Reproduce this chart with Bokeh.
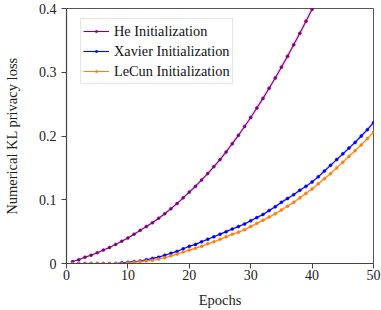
from bokeh.plotting import figure
from bokeh.models import Range1d, Legend, LegendItem, FixedTicker, ColumnDataSource
from bokeh.embed import file_html
from bokeh.resources import INLINE

epochs = list(range(1, 51))

he_loss = [0.003, 0.006, 0.010, 0.013, 0.017, 0.021, 0.025, 0.030, 0.035, 0.040,
           0.046, 0.052, 0.058, 0.064, 0.071, 0.078, 0.086, 0.094, 0.103, 0.112,
           0.121, 0.131, 0.141, 0.152, 0.163, 0.175, 0.188, 0.201, 0.215, 0.229,
           0.244, 0.259, 0.275, 0.291, 0.308, 0.325, 0.343, 0.361, 0.380, 0.399,
           0.419, 0.439, 0.460, 0.481, 0.503, 0.525, 0.548, 0.571, 0.595, 0.619]
he_std = [0.0005, 0.0006, 0.0008, 0.0010, 0.0011, 0.0012, 0.0013, 0.0014, 0.0015, 0.0016,
          0.0017, 0.0018, 0.0019, 0.0020, 0.0021, 0.0022, 0.0023, 0.0024, 0.0025, 0.0026,
          0.0028, 0.0030, 0.0032, 0.0034, 0.0036, 0.0038, 0.0040, 0.0042, 0.0044, 0.0046,
          0.0048, 0.0050, 0.0052, 0.0054, 0.0056, 0.0058, 0.0060, 0.0062, 0.0064, 0.0066,
          0.0068, 0.0070, 0.0072, 0.0074, 0.0076, 0.0078, 0.0080, 0.0082, 0.0084, 0.0086]

xavier_loss = [0.000, 0.000, 0.000, 0.000, 0.000, 0.000, 0.000, 0.000, 0.001, 0.002,
               0.003, 0.004, 0.006, 0.008, 0.010, 0.013, 0.016, 0.019, 0.023, 0.027,
               0.030, 0.034, 0.038, 0.042, 0.046, 0.050, 0.054, 0.058, 0.062, 0.067,
               0.072, 0.077, 0.083, 0.089, 0.096, 0.102, 0.108, 0.115, 0.121, 0.128,
               0.136, 0.145, 0.154, 0.163, 0.172, 0.181, 0.190, 0.200, 0.210, 0.221]
xavier_std = [0.0002, 0.0002, 0.0002, 0.0002, 0.0002, 0.0002, 0.0002, 0.0002, 0.0003, 0.0004,
              0.0005, 0.0006, 0.0007, 0.0008, 0.0009, 0.0010, 0.0011, 0.0012, 0.0013, 0.0014,
              0.0015, 0.0016, 0.0017, 0.0018, 0.0019, 0.0020, 0.0020, 0.0021, 0.0021, 0.0022,
              0.0022, 0.0023, 0.0023, 0.0024, 0.0024, 0.0025, 0.0025, 0.0026, 0.0026, 0.0027,
              0.0027, 0.0028, 0.0028, 0.0029, 0.0029, 0.0030, 0.0030, 0.0031, 0.0031, 0.0032]

lecun_loss = [0.000, 0.000, 0.000, 0.000, 0.000, 0.000, 0.000, 0.000, 0.000, 0.001,
              0.002, 0.003, 0.004, 0.005, 0.007, 0.009, 0.012, 0.015, 0.018, 0.021,
              0.024, 0.027, 0.031, 0.034, 0.038, 0.042, 0.046, 0.049, 0.053, 0.058,
              0.063, 0.068, 0.073, 0.078, 0.084, 0.090, 0.096, 0.103, 0.110, 0.117,
              0.125, 0.133, 0.141, 0.150, 0.159, 0.168, 0.177, 0.186, 0.196, 0.206]
lecun_std = [0.0002, 0.0002, 0.0002, 0.0002, 0.0002, 0.0002, 0.0002, 0.0002, 0.0002, 0.0003,
             0.0004, 0.0005, 0.0006, 0.0007, 0.0008, 0.0009, 0.0010, 0.0011, 0.0012, 0.0013,
             0.0014, 0.0015, 0.0016, 0.0017, 0.0018, 0.0019, 0.0019, 0.0020, 0.0020, 0.0021,
             0.0021, 0.0022, 0.0022, 0.0023, 0.0023, 0.0024, 0.0024, 0.0025, 0.0025, 0.0026,
             0.0026, 0.0027, 0.0027, 0.0028, 0.0028, 0.0029, 0.0029, 0.0030, 0.0030, 0.0031]

series_names = ["He Initialization", "Xavier Initialization", "LeCun Initialization"]
series_colors = ["#800080", "#0000ff", "#ff7f0e"]
x_ticks = [0, 10, 20, 30, 40, 50]
y_ticks = [0, 0.1, 0.2, 0.3, 0.4]
x_label = "Epochs"
y_label = "Numerical KL privacy loss"

FONT = "serif"

p = figure(width=381, height=310, output_backend="svg", toolbar_location=None,
           x_range=Range1d(0, 50), y_range=Range1d(0, 0.4),
           min_border_left=65, min_border_right=8, min_border_top=8, min_border_bottom=47)

p.xgrid.visible = False
p.ygrid.visible = False
p.outline_line_color = "#555555"
p.outline_line_width = 1
p.background_fill_color = "white"
p.border_fill_color = "white"

for ax in (p.xaxis[0], p.yaxis[0]):
    ax.axis_line_color = "#444444"
    ax.axis_line_width = 1.2
    ax.major_tick_line_color = "#444444"
    ax.major_tick_in = 0
    ax.major_tick_out = 5
    ax.minor_tick_line_color = None
    ax.major_label_text_font = FONT
    ax.major_label_text_font_size = "14px"
    ax.major_label_text_color = "#222222"
    ax.axis_label_text_font = FONT
    ax.axis_label_text_font_size = "14.5px"
    ax.axis_label_text_font_style = "normal"
    ax.axis_label_text_color = "#222222"

p.xaxis.ticker = FixedTicker(ticks=x_ticks)
p.yaxis.ticker = FixedTicker(ticks=y_ticks)
p.xaxis.major_label_overrides = {t: str(t) for t in x_ticks}
p.yaxis.major_label_overrides = {0: "0", 0.1: "0.1", 0.2: "0.2", 0.3: "0.3", 0.4: "0.4"}
p.xaxis.axis_label = x_label
p.yaxis.axis_label = y_label
p.xaxis.major_label_standoff = 1
p.xaxis.axis_label_standoff = 9
p.yaxis.major_label_standoff = 5
p.yaxis.axis_label_standoff = 16

items = []
for name, color, vals, std in zip(series_names, series_colors,
                                   [he_loss, xavier_loss, lecun_loss],
                                   [he_std, xavier_std, lecun_std]):
    lower = [v - s for v, s in zip(vals, std)]
    upper = [v + s for v, s in zip(vals, std)]
    src = ColumnDataSource(dict(x=epochs, y=vals, lo=lower, hi=upper))
    p.varea(x="x", y1="lo", y2="hi", source=src, fill_color=color, fill_alpha=0.15)
    ln = p.line(x="x", y="y", source=src, line_color=color, line_width=1.1)
    sc = p.scatter(x="x", y="y", source=src, size=3, marker="circle",
                   fill_color=color, line_color=color, line_width=0.5)
    items.append(LegendItem(label=name, renderers=[ln, sc]))

legend = Legend(items=items, location=(14, 179),
                label_text_font=FONT, label_text_font_size="14.3px",
                label_text_color="#111111")
legend.margin = 0
legend.padding = 2
legend.spacing = 0
legend.label_height = 20
legend.glyph_height = 6
legend.glyph_width = 26
legend.label_standoff = 5
legend.border_line_color = "#cccccc"
legend.border_line_width = 1
legend.background_fill_color = "white"
legend.background_fill_alpha = 1.0
p.add_layout(legend, "center")

open("out.html", "w").write(file_html(p, INLINE))
